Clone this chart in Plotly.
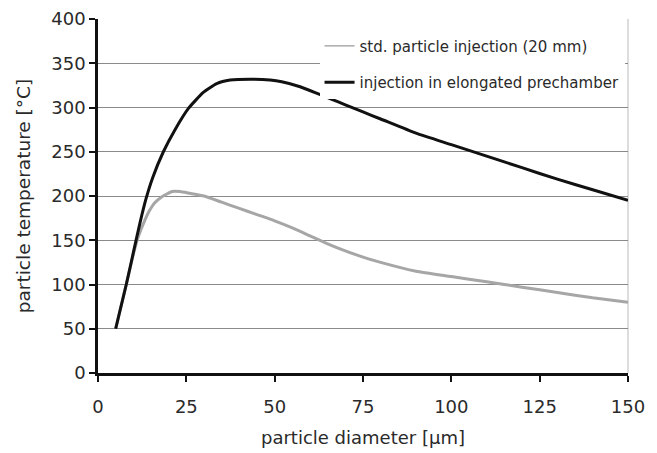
import plotly.graph_objects as go

# particle diameter [µm] / particle temperature [°C]
x_black = [5, 8, 10, 11.9, 13.6, 15.5, 18.5, 21.8, 25.6, 29.8, 33.6, 37.4, 43, 48.7, 52, 57.2, 62, 66, 70, 75, 80, 90, 100, 110, 120, 130, 140, 150]
y_black = [50, 100, 136, 170, 197, 221, 250, 275, 299, 317, 327, 331, 332, 331, 329, 323.5, 316, 309.5, 303, 295, 287, 271, 258, 245, 232, 219, 207, 195]

x_grey = [5, 8, 10, 11.5, 13.3, 14.5, 16, 18, 21, 23.2, 26, 30, 35, 40, 45, 50, 55, 60, 65, 70, 75, 80, 90, 100, 110, 120, 130, 140, 150]
y_grey = [50, 100, 134, 155, 173, 183, 192, 199, 205, 205, 203, 200, 193, 186, 179, 172, 164, 155, 146, 138, 131, 125, 115, 109, 103, 97, 91, 85, 80]

x_ticks = [0, 25, 50, 75, 100, 125, 150]
y_ticks = [0, 50, 100, 150, 200, 250, 300, 350, 400]

name_grey = "std. particle injection (20 mm)"
name_black = "injection in elongated prechamber"

FONT = "DejaVu Sans, Verdana, sans-serif"
TXT = "#2a2a2a"

fig = go.Figure()
fig.add_trace(go.Scatter(x=x_grey, y=y_grey, mode="lines", showlegend=False,
                         line=dict(color="#a6a6a6", width=3, shape="spline", smoothing=0.5)))
fig.add_trace(go.Scatter(x=x_black, y=y_black, mode="lines", showlegend=False,
                         line=dict(color="#111111", width=3, shape="spline", smoothing=0.5)))
# legend entries
fig.add_trace(go.Scatter(x=[None], y=[None], mode="lines", name=name_grey,
                         line=dict(color="#9a9a9a", width=1.2), legendgroup="a"))
fig.add_trace(go.Scatter(x=[None], y=[None], mode="lines", name=name_black,
                         line=dict(color="#111111", width=3), legendgroup="b"))

fig.update_layout(
    width=657, height=453,
    margin=dict(l=98, r=29, t=19, b=80),
    paper_bgcolor="white", plot_bgcolor="white",
    font=dict(family=FONT, size=18, color=TXT),
    showlegend=True,
    legend=dict(x=0.418, y=0.97, xanchor="left", yanchor="top",
                bgcolor="white", font=dict(size=15, color=TXT),
                tracegroupgap=14, traceorder="grouped", itemwidth=30),
    xaxis=dict(range=[0, 150], tickvals=x_ticks, showgrid=False, zeroline=False,
               showline=True, linecolor="#111111", linewidth=2.5, automargin=False,
               ticks="outside", ticklen=6, tickwidth=2, tickcolor="#111111",
               tickfont=dict(size=18), ticklabelstandoff=10,
               title=dict(text="particle diameter [µm]", font=dict(size=18), standoff=16)),
    yaxis=dict(range=[0, 400], tickvals=y_ticks, showgrid=True, gridcolor="#8a8a8a", gridwidth=1,
               zeroline=False, showline=True, linecolor="#111111", linewidth=2.5, automargin=False,
               ticks="outside", ticklen=6, tickwidth=2, tickcolor="#111111",
               tickfont=dict(size=18),
               title=dict(text="particle temperature [°C]", font=dict(size=18.5), standoff=16)),
)

fig.add_shape(type="line", xref="paper", yref="paper", x0=1, x1=1, y0=0, y1=1,
              line=dict(color="#bbbbbb", width=1), layer="below")

fig.write_html("out.html")
